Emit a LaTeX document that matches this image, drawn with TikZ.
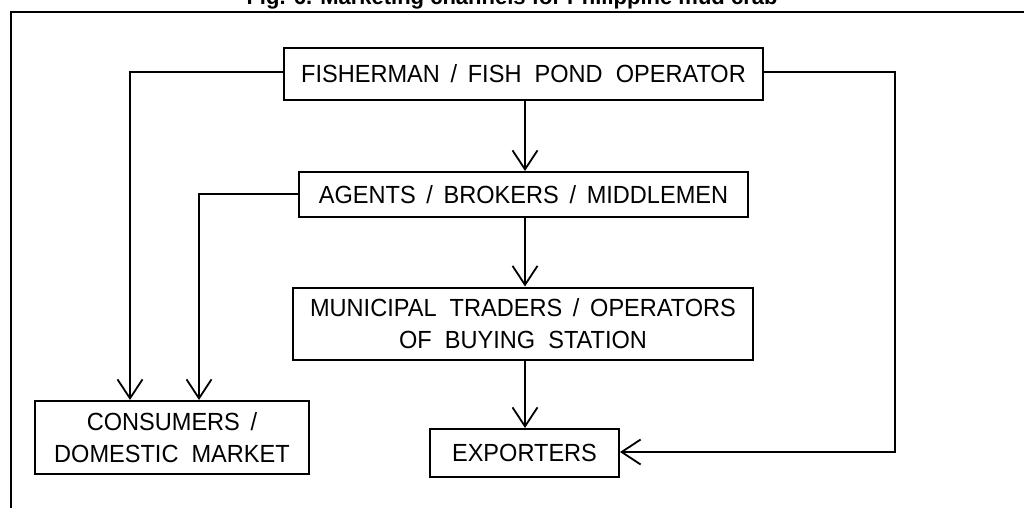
\documentclass[tikz,border=0pt]{standalone}
\usepackage{fontspec}
\setmainfont{Liberation Sans}
\newfontfamily\boxfont{Liberation Sans}[FakeStretch=0.95]
\usetikzlibrary{arrows.meta}
\begin{document}
\begin{tikzpicture}[x=1pt,y=-1pt,
  box/.style={draw, line width=2pt, inner sep=0pt, align=center,
    font=\boxfont\fontsize{24.8}{32}\selectfont},
  conn/.style={line width=1.8pt},
  arr/.style={conn, -{Straight Barb[length=19pt,width=25pt,line width=1.8pt]}}]
\useasboundingbox (0,0) rectangle (1024,508);
\node[font=\bfseries\fontsize{22}{26}\selectfont, anchor=base] (title) at (512,5) {Fig. 6. Marketing channels for Philippine mud crab};
\coordinate (fc1) at (11,508);
\coordinate (fc2) at (11,12);
\coordinate (fc3) at (1024,12);
\draw[line width=2pt] (fc1) -- (fc2) -- (fc3);
\node[box, minimum width=479pt, minimum height=52pt] (fish) at (523.5,74) {FISHERMAN \,/\, FISH \ POND \ OPERATOR};
\node[box, minimum width=449pt, minimum height=45pt] (agents) at (523.5,194.5) {AGENTS \,/\, BROKERS \,/\, MIDDLEMEN};
\node[box, minimum width=460pt, minimum height=72pt] (muni) at (523,323.5) {MUNICIPAL \ TRADERS \,/\, OPERATORS\\OF \ BUYING \ STATION};
\node[box, minimum width=274pt, minimum height=73pt] (cons) at (172,437.5) {CONSUMERS \,/\\DOMESTIC \ MARKET};
\node[box, minimum width=189pt, minimum height=48pt] (exp) at (524.5,453) {EXPORTERS};
\coordinate (c1) at (130,72);
\coordinate (c2) at (199,194);
\coordinate (c3) at (895,72);
\coordinate (c4) at (895,452);
\draw[arr] (fish.west |- c1) -- (c1) -- (c1 |- cons.north);
\draw[arr] (agents.west |- c2) -- (c2) -- (c2 |- cons.north);
\draw[arr] (fish.east |- c3) -- (c3) -- (c4) -- (exp.east |- c4);
\draw[arr] (fish.south -| 525,0) -- (agents.north -| 525,0);
\draw[arr] (agents.south -| 525,0) -- (muni.north -| 525,0);
\draw[arr] (muni.south -| 525,0) -- (exp.north -| 525,0);
\end{tikzpicture}
\end{document}
